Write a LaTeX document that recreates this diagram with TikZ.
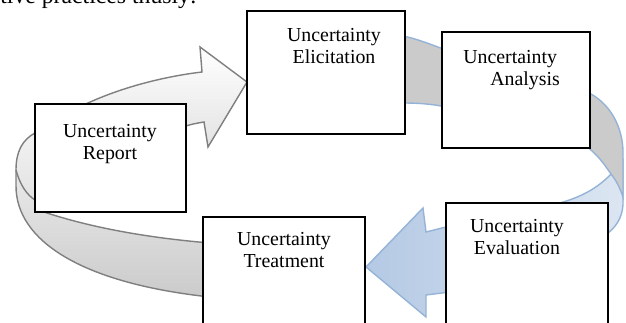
\documentclass[tikz,border=0pt]{standalone}
\usepackage{fontspec}
\setmainfont{Liberation Serif}
\usetikzlibrary{fit}
\definecolor{bandgray}{HTML}{CBCBCB}
\definecolor{bandedge}{HTML}{7F7F7F}
\definecolor{ringblue}{HTML}{95B3D7}
\definecolor{arrowblue}{HTML}{B4C9E4}
\definecolor{tailblue}{HTML}{DCE6F2}
\pgfkeys{tikz/stage/.style={draw=black,fill=white,line width=0.6pt,inner sep=0pt}}
\pgfkeys{tikz/stagelabel/.style={anchor=north,align=center,inner sep=0pt,font=\fontsize{11.3}{12.3}\selectfont}}
\newcommand*\stagebox[6][]{\node [stage, fit={(#3,#4) (#5,#6)}, #1] (#2) {};}

\begin{document}
\begin{tikzpicture}[x=0.02cm,y=-0.02cm]
\useasboundingbox (0,0) rectangle (626,323);
\clip (0,0) rectangle (626,323);

% cut off text line above
\node [anchor=base west, inner sep=0pt, font=\fontsize{13.5}{15}\selectfont] (intro) at (0,3.5) {tive practices thusly:};

% ring, left part
\draw [draw=bandedge, line width=0.8pt, top color=gray!10, bottom color=bandgray, shading angle=0]
  (45,133) -- (35,133) .. controls (22,140) and (16,152) .. (16,170) -- (16,186)
  .. controls (16,240) and (80,283) .. (210,297) -- (210,243)
  .. controls (150,238) and (90,228) .. (38,210) -- (45,210) -- cycle;
\draw [bandedge, line width=0.8pt] (16,170) .. controls (20,185) and (27,195) .. (35,200);

% white arrow into elicitation
\draw [draw=bandedge, line width=0.8pt, top color=white, bottom color=gray!22]
  (70,112) .. controls (110,90) and (160,77) .. (202,72) -- (200,47) -- (247,82)
  -- (208,147) -- (204,122) .. controls (198,123) and (192,124) .. (186,126)
  -- (150,140) -- (80,130) -- cycle;

% blue arrow into treatment
\draw [draw=ringblue, line width=0.8pt, left color=arrowblue, right color=tailblue]
  (611,174) -- (623,160) -- (623,205) .. controls (622,218) and (616,228) .. (604,236)
  -- (450,292) -- (426,295) -- (426,317) -- (366,267) -- (423,208) -- (426,232)
  -- (450,226) -- (556,204) .. controls (580,198) and (598,188) .. (611,174) -- cycle;

% ring, right part
\draw [draw=ringblue, line width=0.8pt, fill=bandgray]
  (403,36) .. controls (418,39) and (432,45) .. (446,50) -- (585,50) -- (588,93)
  -- (591,94) .. controls (612,106) and (622,128) .. (623,150) -- (623,197)
  .. controls (620,188) and (616,180) .. (611,174) .. controls (604,164) and (598,155) .. (586,146)
  -- (446,107) .. controls (432,104) and (418,103) .. (403,103) -- cycle;

% stages
\stagebox{report}{35}{104}{186}{212}
\stagebox{elic}{247}{11}{405}{134}
\stagebox{anal}{442}{32}{590}{148}
\stagebox{eval}{446}{203}{608}{340}
\stagebox{treat}{203}{217}{365}{340}

\node [stagelabel] (report-l) at (110,124) {Uncertainty\\Report};
\node [stagelabel] (elic-l) at (334,28) {Uncertainty\\Elicitation};
\node [stagelabel, anchor=north west, align=left] (anal-l) at (463,50) {Uncertainty\\\hspace*{0.54cm}Analysis};
\node [stagelabel] (eval-l) at (517,219) {Uncertainty\\Evaluation};
\node [stagelabel] (treat-l) at (284,232) {Uncertainty\\Treatment};

\end{tikzpicture}
\end{document}
